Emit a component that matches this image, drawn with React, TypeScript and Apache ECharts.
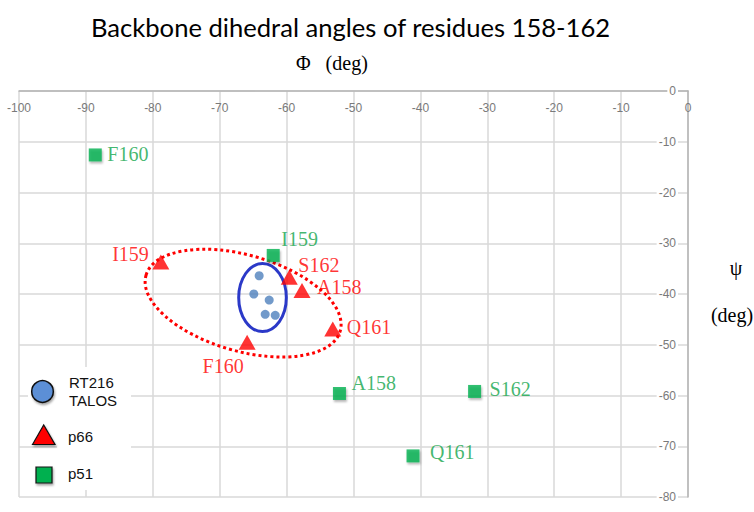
import React, { useEffect, useRef } from "react";
import * as echarts from "echarts";

// ---- data ----
const p51Residues = ["F160", "I159", "A158", "S162", "Q161"];
const p51Phi = [-88.6, -62.0, -52.1, -31.9, -41.1];
const p51Psi = [-12.6, -32.4, -59.6, -59.2, -71.9];

const p66Residues = ["I159", "S162", "A158", "Q161", "F160"];
const p66Phi = [-78.8, -59.6, -57.7, -53.1, -65.9];
const p66Psi = [-33.7, -36.7, -39.3, -46.9, -49.5];

const talosPhi = [-64.1, -64.9, -62.6, -63.2, -61.7];
const talosPsi = [-36.4, -40.0, -41.2, -44.0, -44.2];

// ellipse: centre phi, centre psi, half-width (phi units), half-height (psi units), tilt (deg, clockwise)
const talosEllipse = [-63.6, -40.7, 3.56, 6.7, 0];
const p66Ellipse = [-66.5, -41.8, 15.1, 9.46, 16];

const phiMin = -100;
const phiMax = 0;
const psiMin = -80;
const psiMax = 0;
const tickStep = 10;

const titleText = "Backbone dihedral angles of residues 158-162";
const legendNames = ["RT216\nTALOS", "p66", "p51"];

// ---- label placement (style, not data) ----
const p51LabelPos: Record<string, [number, number, string]> = {
  F160: [12, -1, "left"],
  I159: [8, -16, "left"],
  A158: [12, -10, "left"],
  S162: [15, -2, "left"],
  Q161: [17, -4, "left"],
};
const p66LabelPos: Record<string, [number, number, string]> = {
  I159: [-12, -8, "right"],
  S162: [9, -12, "left"],
  A158: [15, -3, "left"],
  Q161: [14, -2, "left"],
  F160: [-24, 24, "center"],
};

const RED = "#ff0000";
const GREEN = "#00b050";
const GREEN_TEXT = "#12a54b";
const BLUE_DOT = "#4f81bd";
const BLUE_RING = "#2b39c8";
const SERIF = "'Liberation Serif', 'DejaVu Serif', serif";
const SANS = "'Liberation Sans', Arial, sans-serif";

function ellipseRender(stroke: string, width: number, dash: number[] | null) {
  return (params: any, api: any) => {
    const c = api.coord([api.value(0), api.value(1)]);
    const s = api.size([api.value(2), api.value(3)]);
    const rot = (-api.value(4) * Math.PI) / 180;
    return {
      type: "ellipse",
      x: c[0],
      y: c[1],
      rotation: rot,
      shape: { cx: 0, cy: 0, rx: s[0], ry: s[1] },
      style: {
        fill: "none",
        stroke,
        lineWidth: width,
        lineDash: dash || undefined,
        lineCap: "butt",
      },
      silent: true,
    };
  };
}

export default function App() {
  const ref = useRef<HTMLDivElement>(null);

  useEffect(() => {
    if (!ref.current) return;
    const chart = echarts.init(ref.current, null, { renderer: "svg" });

    const labelBase = {
      show: true,
      position: "inside",
      formatter: "{b}",
      fontFamily: SERIF,
      fontSize: 20,
      verticalAlign: "middle",
    };

    const option: any = {
      animation: false,
      backgroundColor: "#ffffff",
      title: {
        text: titleText,
        left: 86,
        top: 9,
        textStyle: { fontFamily: "Lato, 'Open Sans', sans-serif", fontSize: 25.6, fontWeight: "normal", color: "#000" },
      },
      grid: { left: 19, right: 66, top: 91, bottom: 15, containLabel: false },
      xAxis: {
        type: "value",
        position: "top",
        min: phiMin,
        max: phiMax,
        interval: tickStep,
        axisLine: { show: true, onZero: false, lineStyle: { color: "#b4b4b4", width: 1.5 } },
        axisTick: { show: false },
        axisLabel: { inside: true, margin: 11, color: "#7a7a7a", fontSize: 12, fontFamily: SANS },
        splitLine: { show: true, lineStyle: { color: "#d9d9d9", width: 1.5 } },
      },
      yAxis: {
        type: "value",
        position: "right",
        min: psiMin,
        max: psiMax,
        interval: tickStep,
        axisLine: { show: true, onZero: false, lineStyle: { color: "#b4b4b4", width: 1.5 } },
        axisTick: { show: false },
        axisLabel: {
          inside: true,
          margin: 10,
          color: "#7a7a7a",
          fontSize: 12,
          fontFamily: SANS,
          backgroundColor: "#ffffff",
          padding: [0, 2],
        },
        splitLine: { show: true, lineStyle: { color: "#d9d9d9", width: 1.5 } },
      },
      series: [
        {
          type: "custom",
          name: "p66 region",
          coordinateSystem: "cartesian2d",
          renderItem: ellipseRender(RED, 3, [3, 3]),
          data: [p66Ellipse],
          encode: { x: 0, y: 1 },
          z: 1,
          silent: true,
        },
        {
          type: "custom",
          name: "TALOS region",
          coordinateSystem: "cartesian2d",
          renderItem: ellipseRender(BLUE_RING, 3, null),
          data: [talosEllipse],
          encode: { x: 0, y: 1 },
          z: 1,
          silent: true,
        },
        {
          type: "scatter",
          name: legendNames[0],
          symbol: "circle",
          symbolSize: 9,
          itemStyle: { color: BLUE_DOT },
          data: talosPhi.map((x, i) => [x, talosPsi[i]]),
          z: 3,
        },
        {
          type: "scatter",
          name: legendNames[1],
          symbol: "triangle",
          symbolSize: [17, 15],
          itemStyle: { color: RED },
          label: { ...labelBase, color: RED },
          data: p66Residues.map((r, i) => ({
            name: r,
            value: [p66Phi[i], p66Psi[i]],
            label: { offset: [p66LabelPos[r][0], p66LabelPos[r][1]], align: p66LabelPos[r][2] },
          })),
          z: 3,
        },
        {
          type: "scatter",
          name: legendNames[2],
          symbol: "rect",
          symbolSize: 13,
          itemStyle: {
            color: GREEN,
            shadowBlur: 2,
            shadowColor: "rgba(0,0,0,0.35)",
            shadowOffsetX: 1,
            shadowOffsetY: 2,
          },
          label: { ...labelBase, color: GREEN_TEXT },
          data: p51Residues.map((r, i) => ({
            name: r,
            value: [p51Phi[i], p51Psi[i]],
            label: { offset: [p51LabelPos[r][0], p51LabelPos[r][1]], align: p51LabelPos[r][2] },
          })),
          z: 4,
        },
      ],
      graphic: [
        // axis names
        {
          type: "text",
          x: 296,
          y: 63,
          z: 100,
          style: { text: "Φ   (deg)", fontFamily: SERIF, fontSize: 20, fill: "#000", verticalAlign: "middle", align: "left" },
        },
        {
          type: "text",
          x: 736,
          y: 268,
          z: 100,
          style: { text: "ψ", fontFamily: SERIF, fontSize: 20, fill: "#000", verticalAlign: "middle", align: "center" },
        },
        {
          type: "text",
          x: 732,
          y: 315,
          z: 100,
          style: { text: "(deg)", fontFamily: SERIF, fontSize: 20, fill: "#000", verticalAlign: "middle", align: "center" },
        },
        // legend background
        { type: "rect", z: 90, shape: { x: 57, y: 367, width: 74, height: 123 }, style: { fill: "#ffffff" } },
        { type: "rect", z: 90, shape: { x: 28, y: 367, width: 30, height: 50 }, style: { fill: "#ffffff" } },
        // legend symbols
        {
          type: "circle",
          z: 100,
          shape: { cx: 42.5, cy: 391.5, r: 10.8 },
          style: {
            fill: "#5b8fd6",
            stroke: "#111",
            lineWidth: 1.5,
            shadowBlur: 2,
            shadowColor: "rgba(0,0,0,0.35)",
            shadowOffsetX: 1,
            shadowOffsetY: 2,
          },
        },
        {
          type: "polygon",
          z: 100,
          shape: { points: [[32.5, 444.5], [43.7, 425], [55, 444.5]] },
          style: {
            fill: RED,
            stroke: "#111",
            lineWidth: 1.2,
            shadowBlur: 2,
            shadowColor: "rgba(0,0,0,0.35)",
            shadowOffsetX: 1,
            shadowOffsetY: 2,
          },
        },
        {
          type: "rect",
          z: 100,
          shape: { x: 36, y: 467, width: 16, height: 16 },
          style: {
            fill: GREEN,
            stroke: "#111",
            lineWidth: 1.2,
            shadowBlur: 2,
            shadowColor: "rgba(0,0,0,0.35)",
            shadowOffsetX: 1,
            shadowOffsetY: 2,
          },
        },
        // legend texts
        {
          type: "text",
          z: 100,
          x: 69,
          y: 391.5,
          style: { text: legendNames[0], fontFamily: SANS, fontSize: 15, lineHeight: 18, fill: "#111", verticalAlign: "middle", align: "left" },
        },
        {
          type: "text",
          z: 100,
          x: 68,
          y: 436,
          style: { text: legendNames[1], fontFamily: SANS, fontSize: 15, fill: "#111", verticalAlign: "middle", align: "left" },
        },
        {
          type: "text",
          z: 100,
          x: 68,
          y: 473,
          style: { text: legendNames[2], fontFamily: SANS, fontSize: 15, fill: "#111", verticalAlign: "middle", align: "left" },
        },
      ],
    };

    chart.setOption(option);
    return () => chart.dispose();
  }, []);

  return (
    <div
      ref={ref}
      style={{ position: "absolute", left: 0, top: 0, width: 754, height: 512, background: "#fff" }}
    />
  );
}
